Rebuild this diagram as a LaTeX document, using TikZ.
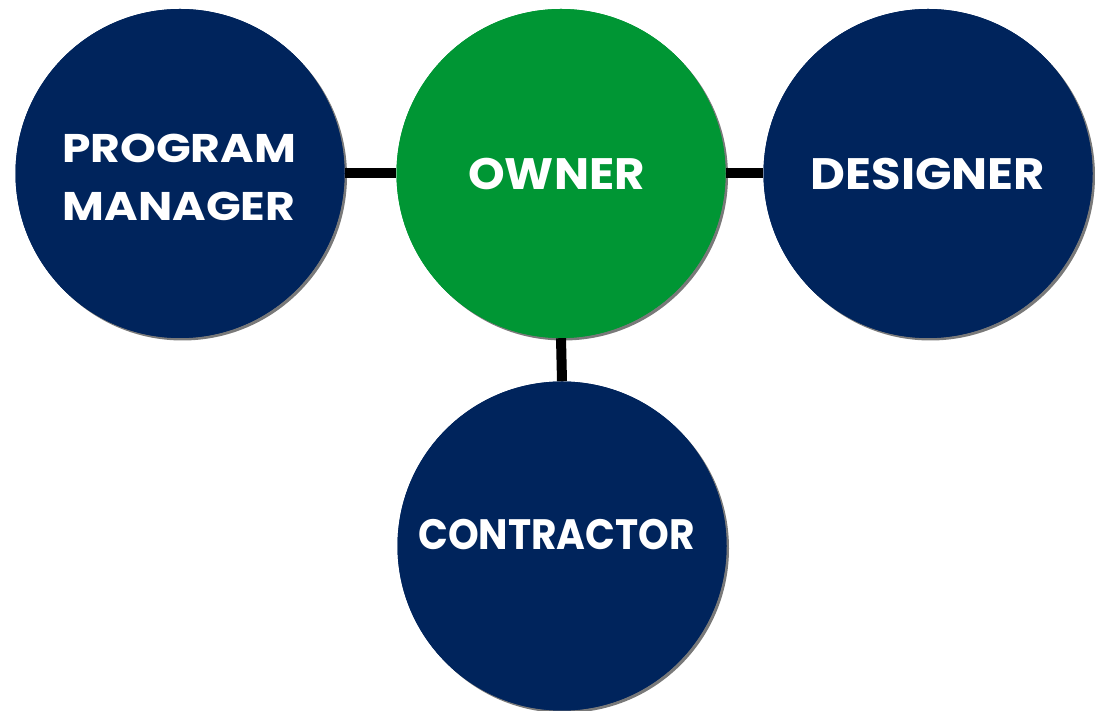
\documentclass[tikz,border=0pt]{standalone}
\usepackage{fontspec}
\setmainfont{Poppins}
\usetikzlibrary{shadows}
\definecolor{navy}{RGB}{0,36,92}
\definecolor{ownergreen}{RGB}{0,150,52}
\tikzset{
  role/.style={circle, minimum size=329pt, inner sep=0pt, fill=navy,
    drop shadow={shadow xshift=2.5pt, shadow yshift=-2.5pt, opacity=0.7, fill=black!75}},
  plain/.style={circle, minimum size=329pt, inner sep=0pt, fill=navy},
  label/.style={text=white, align=center, inner sep=0pt, transform shape},
  link/.style={line width=10pt, black}
}
\begin{document}
\begin{tikzpicture}[x=1pt,y=1pt]
\useasboundingbox (0,0) rectangle (1095,711);
\node[role] (pm) at (180,537.5) {};
\node[role, fill=ownergreen] (owner) at (561,537.5) {};
\node[role] (des) at (928,537.5) {};
\node[role] (con) at (562,165) {};
\draw[link] (pm.east) -- (owner.west);
\draw[link] (owner.east) -- (des.west);
\draw[link] (owner.south) -- (con.north);
\node[plain] at (pm) {};
\node[plain, fill=ownergreen] at (owner) {};
\node[plain] at (des) {};
\node[plain] at (con) {};
\node[label, xscale=1.14, font=\fontsize{40}{58}\selectfont\bfseries] (pmt) at (179,534) {PROGRAM\\MANAGER};
\node[label, xscale=1.06, font=\fontsize{44}{58}\selectfont\bfseries] (ownt) at (556.5,537) {OWNER};
\node[label, xscale=1.09, font=\fontsize{44}{58}\selectfont\bfseries] (dest) at (928,536.5) {DESIGNER};
\node[label, xscale=0.92, font=\fontsize{42.5}{58}\selectfont\bfseries] (cont) at (556.5,176) {CONTRACTOR};
\end{tikzpicture}
\end{document}
